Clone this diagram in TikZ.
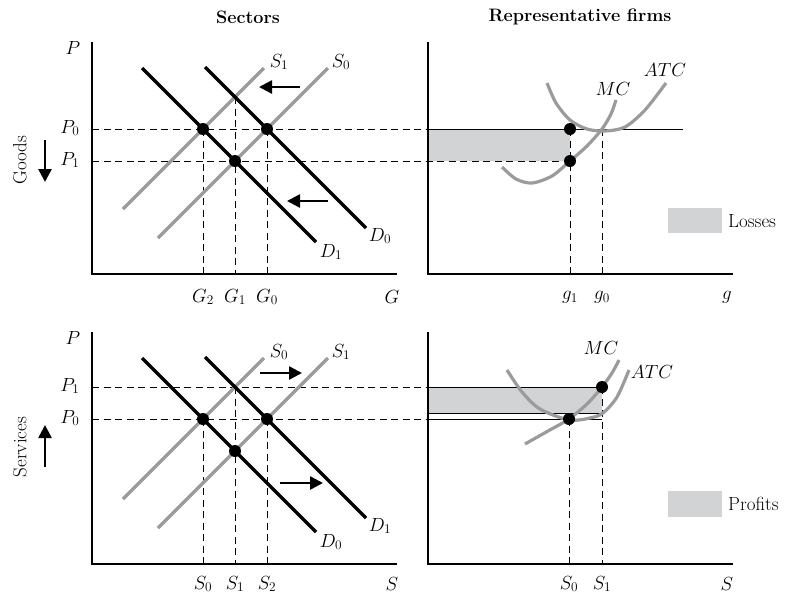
\RequirePackage{fix-cm}
\documentclass[tikz,border=0pt]{standalone}
\usepackage{tikz}
\usetikzlibrary{arrows.meta}
\definecolor{curvegray}{RGB}{155,155,155}
\definecolor{areagray}{RGB}{210,211,213}

\begin{document}
\begin{tikzpicture}[x=1pt, y=-1pt,
  axis/.style={line width=1.2pt},
  guide/.style={line width=0.9pt, dash pattern=on 7pt off 4.5pt},
  level/.style={line width=0.9pt},
  demand/.style={line width=3.2pt, black},
  supply/.style={line width=3.2pt, curvegray},
  cost/.style={line width=3.2pt, curvegray},
  dot/.style={circle, fill=black, inner sep=0pt, minimum size=12pt},
  shiftarr/.style={-{Triangle[length=13pt,width=13pt]}, line width=2.6pt},
  lab/.style={font=\fontsize{19}{22}\selectfont, inner sep=1pt},
  title/.style={font=\bfseries\fontsize{18}{22}\selectfont},
  legendbox/.style={fill=areagray, draw=none},
]
\useasboundingbox (0,0) rectangle (785,598);

% TITLES
\node[title] (tsec) at (248,17) {Sectors};
\node[title] (tfirm) at (580,17) {Representative firms};

% GOODS: sector
\coordinate (gO) at (92,274);
\coordinate (gA) at (203,129);
\coordinate (gB) at (267,129);
\coordinate (gC) at (235,161);
\coordinate (gX) at (235,97);
\draw[axis] (92,42) -- (gO) -- (397,274);
\draw[guide] (gO |- gA) -- (428,129);
\draw[guide] (gO |- gC) -- (570,161);
\draw[guide] (gA) -- (gA |- gO);
\draw[guide] (gX) -- (gX |- gO);
\draw[guide] (gB) -- (gB |- gO);
\draw[supply] (123,209) -- (264,68);
\draw[supply] (158,238) -- (328,68);
\draw[demand] (142,68) -- (316,242);
\draw[demand] (205,67) -- (366,228);
\draw[shiftarr] (300,87) -- (259,87);
\draw[shiftarr] (328,201) -- (287,201);
\node[dot] (dgA) at (gA) {};
\node[dot] (dgB) at (gB) {};
\node[dot] (dgC) at (gC) {};
\node[lab] (gP) at (73,48) {$P$};
\node[lab] (gP0) at (70,128) {$P_0$};
\node[lab] (gP1) at (70,160) {$P_1$};
\node[lab] (gS1) at (279,62) {$S_1$};
\node[lab] (gS0) at (341,62) {$S_0$};
\node[lab] (gD0) at (380,236) {$D_0$};
\node[lab] (gD1) at (331,252) {$D_1$};
\node[lab] (gG2) at (203,297) {$G_2$};
\node[lab] (gG1) at (235,297) {$G_1$};
\node[lab] (gG0) at (267,297) {$G_0$};
\node[lab] (gG) at (392,297) {$G$};
\node[lab, rotate=90] (goods) at (20,160) {Goods};
\draw[shiftarr] (45,140) -- (45,182);

% GOODS: firm
\coordinate (fO) at (428,274);
\coordinate (fA) at (570,129);
\coordinate (fC) at (570,161);
\coordinate (fB) at (602,129);
\fill[areagray] (fO |- fA) rectangle (fC);
\draw[axis] (428,42) -- (fO) -- (733,274);
\draw[level] (fO |- fA) -- (683,129);
\draw[guide] (fA) -- (fA |- fO);
\draw[guide] (fB) -- (fB |- fO);
\draw[cost] plot[smooth] coordinates {(502,167) (516,179) (532,183) (552,176) (570,161) (587,146) (602,129) (611,114) (616,100)};
\draw[cost] plot[smooth] coordinates {(547,83) (556,103) (570,120) (587,129) (605,131) (625,127) (645,110) (666,83)};
\node[dot] (dfA) at (fA) {};
\node[dot] (dfC) at (fC) {};
\node[lab] (fMC) at (613,89) {$MC$};
\node[lab] (fATC) at (665,70) {$ATC$};
\node[lab] (fg1) at (570,297) {$g_1$};
\node[lab] (fg0) at (602,297) {$g_0$};
\node[lab] (fg) at (727,297) {$g$};
\node[legendbox, minimum width=54pt, minimum height=25pt] (losses) at (695,220.5) {};
\node[lab, anchor=west] (losstxt) at (727,221) {Losses};

% SERVICES: sector
\coordinate (sO) at (92,564);
\coordinate (sA) at (203,419);
\coordinate (sB) at (267,419);
\coordinate (sC) at (235,451);
\coordinate (sX) at (235,387);
\draw[axis] (92,332) -- (sO) -- (397,564);
\draw[guide] (sO |- sX) -- (428,387);
\draw[guide] (sO |- sA) -- (428,419);
\draw[guide] (sA) -- (sA |- sO);
\draw[guide] (sX) -- (sX |- sO);
\draw[guide] (sB) -- (sB |- sO);
\draw[supply] (123,499) -- (264,358);
\draw[supply] (158,528) -- (328,358);
\draw[demand] (142,358) -- (316,532);
\draw[demand] (205,357) -- (366,518);
\draw[shiftarr] (260,373) -- (302,373);
\draw[shiftarr] (280,483) -- (323,483);
\node[dot] (dsA) at (sA) {};
\node[dot] (dsB) at (sB) {};
\node[dot] (dsC) at (sC) {};
\node[lab] (sP) at (73,338) {$P$};
\node[lab] (sP1) at (70,386) {$P_1$};
\node[lab] (sP0) at (70,418) {$P_0$};
\node[lab] (sS0) at (279,352) {$S_0$};
\node[lab] (sS1) at (341,352) {$S_1$};
\node[lab] (sD1) at (380,526) {$D_1$};
\node[lab] (sD0) at (331,542) {$D_0$};
\node[lab] (sq0) at (203,584) {$S_0$};
\node[lab] (sq1) at (235,584) {$S_1$};
\node[lab] (sq2) at (267,584) {$S_2$};
\node[lab] (sS) at (392,584) {$S$};
\node[lab, rotate=90] (services) at (20,447) {Services};
\draw[shiftarr] (45,467) -- (45,425);

% SERVICES: firm
\coordinate (hO) at (428,564);
\coordinate (hA) at (569,419);
\coordinate (hB) at (602,387);
\coordinate (hT) at (602,413);
\fill[areagray] (hO |- hB) rectangle (hT);
\draw[axis] (428,332) -- (hO) -- (733,564);
\draw[level] (hO |- hB) -- (hB);
\draw[level] (hO |- hT) -- (hT);
\draw[level] (hO |- hA) -- (602,419);
\draw[guide] (hA) -- (hA |- hO);
\draw[guide] (hB) -- (hB |- hO);
\draw[cost] plot[smooth] coordinates {(525,444) (548,431) (569,419) (588,403) (602,387) (612,373) (619,360)};
\draw[cost] plot[smooth] coordinates {(507,370) (522,392) (540,409) (569,420) (590,418) (603,413) (617,397) (629,370)};
\node[dot] (dhA) at (hA) {};
\node[dot] (dhB) at (hB) {};
\node[lab] (hMC) at (601,348) {$MC$};
\node[lab] (hATC) at (652,372) {$ATC$};
\node[lab] (hq0) at (569,584) {$S_0$};
\node[lab] (hq1) at (602,584) {$S_1$};
\node[lab] (hS) at (727,584) {$S$};
\node[legendbox, minimum width=54pt, minimum height=26pt] (profits) at (695,504) {};
\node[lab, anchor=west] (proftxt) at (727,504) {Profits};
\end{tikzpicture}
\end{document}
